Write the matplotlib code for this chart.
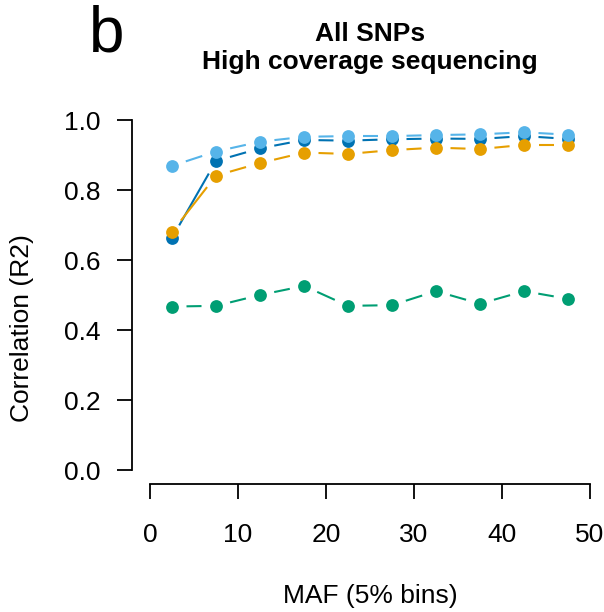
import matplotlib
matplotlib.use("Agg")
import matplotlib.pyplot as plt
from matplotlib.collections import LineCollection
import numpy as np

plt.rcParams['font.family'] = ['Liberation Sans', 'DejaVu Sans']

# MAF bin midpoints (5% bins)
maf = [2.5, 7.5, 12.5, 17.5, 22.5, 27.5, 32.5, 37.5, 42.5, 47.5]

r2_darkblue = [0.663, 0.883, 0.919, 0.943, 0.941, 0.945, 0.947, 0.946, 0.954, 0.946]
r2_orange = [0.680, 0.841, 0.877, 0.907, 0.903, 0.914, 0.921, 0.917, 0.929, 0.929]
r2_lightblue = [0.869, 0.910, 0.938, 0.952, 0.954, 0.954, 0.957, 0.959, 0.965, 0.958]
r2_green = [0.467, 0.469, 0.500, 0.526, 0.469, 0.471, 0.511, 0.475, 0.511, 0.489]

series = [
    (r2_darkblue, '#0072B2'),
    (r2_orange, '#E69F00'),
    (r2_lightblue, '#56B4E9'),
    (r2_green, '#009E73'),
]

W, H = 604, 612
fig = plt.figure(figsize=(W / 100, H / 100), dpi=100)

# plot region like R (4% padding around 0..50 and 0..1)
ax = fig.add_axes([132.4 / W, (H - 484) / H, 475.2 / W, 378 / H])
ax.set_xlim(-2, 52)
ax.set_ylim(-0.04, 1.04)
ax.patch.set_visible(False)

for s in ['top', 'right']:
    ax.spines[s].set_visible(False)
ax.spines['left'].set_bounds(0, 1)
ax.spines['bottom'].set_bounds(0, 50)
for s in ['left', 'bottom']:
    ax.spines[s].set_linewidth(1.3)

ax.set_xticks([0, 10, 20, 30, 40, 50])
ax.set_yticks([0, 0.2, 0.4, 0.6, 0.8, 1.0])
ax.set_yticklabels(['0.0', '0.2', '0.4', '0.6', '0.8', '1.0'])
ax.tick_params(axis='both', direction='out', length=11, width=1.3, labelsize=19)
ax.tick_params(axis='y', pad=12)
ax.tick_params(axis='x', pad=17)


def gapped_segments(xs, ys, gap=14.5):
    # R type="b": line segments stop short of the points
    pts = ax.transData.transform(np.column_stack([xs, ys]))
    inv = ax.transData.inverted()
    segs = []
    for p0, p1 in zip(pts[:-1], pts[1:]):
        d = p1 - p0
        L = np.hypot(*d)
        if L <= 2 * gap:
            continue
        u = d / L
        segs.append(inv.transform(np.array([p0 + u * gap, p1 - u * gap])))
    return segs


for vals, col in series:
    lc = LineCollection(gapped_segments(maf, vals), colors=col, linewidths=1.5,
                        capstyle='butt')
    ax.add_collection(lc)
    ax.plot(maf, vals, 'o', color=col, markersize=9.2, markeredgewidth=0)

fig.text(370 / W, 1 - 596 / H, 'MAF (5% bins)', fontsize=19, ha='center', va='center')
fig.text(22 / W, 1 - 328 / H, 'Correlation (R2)', fontsize=19, ha='center', va='center',
         rotation=90)
fig.text(370 / W, 1 - 48 / H, 'All SNPs\nHigh coverage sequencing', fontsize=19,
         fontweight='bold', ha='center', va='center', linespacing=1.2)
fig.text(107 / W, 1 - 34 / H, 'b', fontsize=46, ha='center', va='center')

fig.savefig('out.png', dpi=100)
